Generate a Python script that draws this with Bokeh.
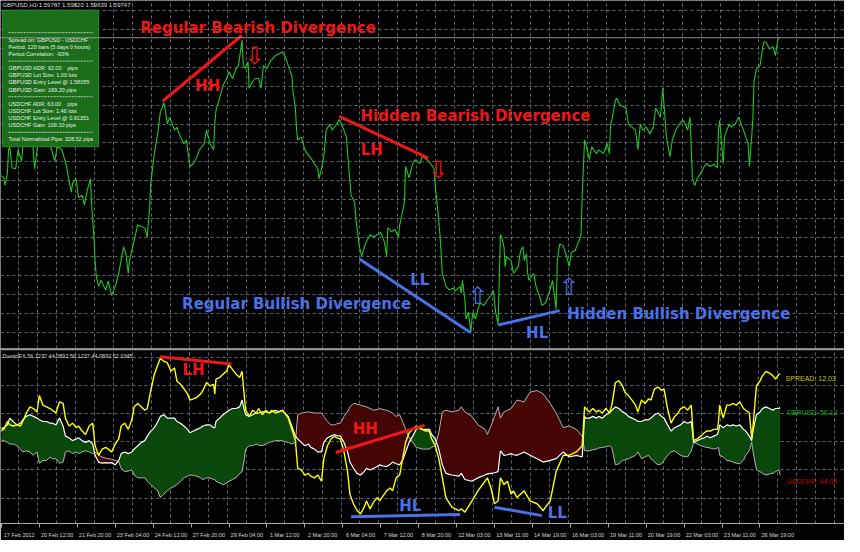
import numpy as np
from bokeh.plotting import figure
from bokeh.layouts import column
from bokeh.models import Range1d, FixedTicker, Grid, Span
from bokeh.core.properties import value
from bokeh.embed import file_html
from bokeh.resources import INLINE

# ---------------- data: GBPUSD H1 close (bar index, price) ----------------
price_bar = [0, 2, 3, 5, 6, 7, 9, 12, 14, 17, 18, 21, 24, 26, 28, 30, 33, 37, 41, 45, 47, 51, 55, 56, 59, 60, 63, 65, 68, 70,
             72, 75, 76, 78, 79, 80, 82, 84, 88, 90, 93, 96, 99, 103, 105, 107, 108, 113, 115, 118, 121, 123, 125, 126, 129,
             132, 134, 137, 138, 140, 142, 146, 148, 151, 154, 156, 159, 162, 165, 167, 171, 173, 176, 179, 180, 181, 184,
             187, 190, 192, 195, 198, 200, 203, 204, 206, 208, 209, 212, 214, 217, 219, 221, 224, 227, 231, 237, 239, 242,
             245, 246, 248, 249, 250, 253, 256, 258, 262, 264, 267, 268, 270, 272, 274, 277, 279, 282, 285, 287, 291, 293,
             295, 298, 299, 302, 304, 307, 311, 314, 317, 320, 323, 325, 326, 329, 332, 335, 336, 340, 341, 344, 347, 349,
             353, 355, 359, 362, 365, 366, 368, 370, 372, 375, 378, 381, 383, 387, 388, 389, 391, 392, 394, 396, 397, 398,
             400, 402, 404, 407, 410, 413, 415, 417, 419, 421, 422, 424, 425, 426, 430, 432, 436, 438, 440, 441, 443, 444,
             445, 449, 451, 455, 456, 459, 462, 465, 466, 468, 469, 471, 474, 477, 479, 481, 484, 487, 489, 490, 492, 493,
             496, 498, 502, 504, 508, 511, 513, 514, 515, 518, 519, 522, 527, 529, 532, 535, 537, 539, 541, 544, 547, 550,
             552, 556, 558, 560, 561, 564, 566, 569, 572, 575, 577, 579, 581, 583, 585, 587, 590, 593, 595, 598, 601, 604,
             605, 606, 609, 610, 614, 616, 619, 622, 624, 626, 628, 630, 631, 633, 634, 635, 637, 640, 643, 645, 648, 651,
             653, 655, 656]
price_close = [1.5793, 1.5790, 1.5780, 1.5796, 1.5827, 1.5831, 1.5803, 1.5802, 1.5827, 1.5812, 1.5831, 1.5850, 1.5870,
               1.5844, 1.5802, 1.5827, 1.5863, 1.5876, 1.5834, 1.5812, 1.5831, 1.5827, 1.5805, 1.5795, 1.5771, 1.5783,
               1.5789, 1.5764, 1.5767, 1.5754, 1.5771, 1.5789, 1.5758, 1.5712, 1.5681, 1.5660, 1.5647, 1.5655, 1.5642,
               1.5654, 1.5635, 1.5647, 1.5664, 1.5699, 1.5690, 1.5664, 1.5681, 1.5715, 1.5728, 1.5726, 1.5724, 1.5712,
               1.5750, 1.5783, 1.5822, 1.5850, 1.5876, 1.5889, 1.5882, 1.5861, 1.5870, 1.5853, 1.5857, 1.5844, 1.5835,
               1.5840, 1.5805, 1.5809, 1.5818, 1.5827, 1.5835, 1.5853, 1.5835, 1.5827, 1.5861, 1.5879, 1.5895, 1.5912,
               1.5921, 1.5930, 1.5921, 1.5934, 1.5938, 1.5972, 1.5938, 1.5934, 1.5943, 1.5908, 1.5917, 1.5921, 1.5921,
               1.5908, 1.5938, 1.5934, 1.5944, 1.5951, 1.5956, 1.5951, 1.5938, 1.5925, 1.5904, 1.5882, 1.5853, 1.5840,
               1.5844, 1.5827, 1.5822, 1.5814, 1.5809, 1.5802, 1.5789, 1.5802, 1.5818, 1.5853, 1.5861, 1.5853, 1.5859,
               1.5867, 1.5861, 1.5844, 1.5805, 1.5767, 1.5758, 1.5737, 1.5699, 1.5687, 1.5703, 1.5715, 1.5712, 1.5715,
               1.5718, 1.5706, 1.5687, 1.5724, 1.5719, 1.5722, 1.5712, 1.5728, 1.5758, 1.5805, 1.5790, 1.5809, 1.5814,
               1.5809, 1.5818, 1.5814, 1.5809, 1.5802, 1.5780, 1.5750, 1.5715, 1.5664, 1.5647, 1.5642, 1.5645, 1.5641,
               1.5647, 1.5638, 1.5655, 1.5629, 1.5604, 1.5613, 1.5587, 1.5604, 1.5613, 1.5604, 1.5617, 1.5625, 1.5622,
               1.5629, 1.5635, 1.5642, 1.5613, 1.5597, 1.5715, 1.5713, 1.5699, 1.5673, 1.5686, 1.5681, 1.5664, 1.5673,
               1.5694, 1.5699, 1.5681, 1.5690, 1.5664, 1.5655, 1.5664, 1.5647, 1.5629, 1.5622, 1.5625, 1.5638, 1.5655,
               1.5642, 1.5617, 1.5681, 1.5703, 1.5700, 1.5686, 1.5673, 1.5692, 1.5694, 1.5706, 1.5715, 1.5767, 1.5840,
               1.5835, 1.5814, 1.5831, 1.5822, 1.5827, 1.5822, 1.5835, 1.5822, 1.5861, 1.5866, 1.5892, 1.5895, 1.5886,
               1.5882, 1.5861, 1.5857, 1.5853, 1.5827, 1.5861, 1.5853, 1.5857, 1.5848, 1.5857, 1.5882, 1.5870, 1.5908,
               1.5866, 1.5844, 1.5818, 1.5840, 1.5853, 1.5861, 1.5866, 1.5861, 1.5853, 1.5870, 1.5789, 1.5780, 1.5789,
               1.5796, 1.5805, 1.5809, 1.5805, 1.5808, 1.5803, 1.5853, 1.5866, 1.5809, 1.5844, 1.5861, 1.5857, 1.5861,
               1.5870, 1.5861, 1.5853, 1.5844, 1.5835, 1.5805, 1.5844, 1.5870, 1.5917, 1.5934, 1.5938, 1.5969, 1.5969,
               1.5960, 1.5963, 1.5951, 1.5972, 1.5975]

# ---------------- data: DuettoFX indicator ----------------
ind_bar = [0, 2, 5, 7, 10, 13, 16, 18, 21, 24, 27, 30, 32, 35, 38, 41, 43, 46, 49, 52, 54, 57, 60, 63, 65, 68, 71, 74, 77,
           79, 82, 85, 88, 90, 93, 96, 99, 101, 104, 107, 110, 112, 115, 118, 121, 123, 126, 129, 132, 134, 137, 140, 143,
           146, 148, 151, 154, 157, 159, 162, 165, 168, 170, 173, 176, 179, 180, 181, 184, 187, 190, 192, 195, 198, 201,
           203, 205, 206, 209, 212, 215, 217, 220, 223, 226, 228, 231, 234, 237, 239, 242, 245, 248,
           250, 253, 256, 259, 261, 264, 267, 270, 272, 275, 278, 281, 283, 286, 289, 292, 294, 297, 300, 303,
           306, 308, 311, 314, 317, 319, 322, 325, 328, 330, 333, 336, 339, 341, 344, 347, 350, 352, 355, 358,
           361, 363, 366, 369, 372, 375, 380, 386, 388, 391, 397, 402, 408, 410, 413, 416, 419, 421, 424, 427,
           430, 432, 435, 441, 446, 452, 457, 463, 468, 474, 479, 485, 490,
           492, 493, 496, 499, 502, 504, 507, 510, 513, 515, 518, 521, 524, 526, 529, 532, 535, 537, 540, 543,
           546, 548, 551, 554, 557, 559, 562, 565, 568, 571, 573, 576, 579, 582, 584, 587, 590, 593, 595, 598,
           601, 604, 605, 606, 609, 612, 615, 617, 620, 623, 626, 628, 631, 633, 634, 637, 640, 642, 645, 648,
           651, 653, 656, 657]
spread_line = [52.5, 52.2, 53.6, 53.0, 52.8, 53.0, 52.8, 53.6, 55.1, 56.2, 55.9, 55.3, 58.2, 56.5, 56.2, 55.9, 55.6, 55.1,
               57.1, 56.8, 54.2, 52.8, 53.3, 52.5, 52.8, 51.9, 51.3, 52.8, 53.3, 49.3, 47.6, 48.7, 49.0, 48.7, 48.2, 49.6,
               50.5, 52.8, 53.3, 52.2, 53.9, 56.2, 56.8, 56.2, 55.6, 55.9, 59.1, 62.0, 63.7, 64.8, 64.3, 64.0, 62.5, 63.1,
               60.8, 60.2, 59.4, 58.5, 57.4, 57.6, 57.9, 58.5, 59.1, 60.5, 59.9, 60.2, 58.5, 61.1, 61.4, 62.0, 62.5, 63.7,
               62.8, 62.0, 61.4, 62.5, 57.9, 55.6, 54.5, 55.6, 55.1, 55.9, 54.8, 55.6, 55.1, 55.6, 55.1, 55.3, 55.6, 55.1,
               54.2, 52.2, 50.2,
               45.3, 45.0, 44.1, 44.4, 43.9, 43.6, 44.1, 43.0, 47.0, 49.3, 50.5, 51.0, 50.7, 50.5, 48.2, 44.7, 40.7, 39.0,
               37.8, 37.2, 38.4, 39.5, 38.1, 39.3, 40.1, 39.5, 40.4, 41.3, 41.8, 41.3, 43.6, 44.1, 47.6, 49.9, 51.6, 52.2,
               52.8, 52.5, 52.2, 51.9, 51.9, 50.5, 49.3, 47.0, 43.6, 40.1, 38.4, 37.8, 38.1, 37.5, 39.5, 41.3, 43.0, 43.6,
               41.8, 39.0, 39.5, 43.6, 42.4, 43.0, 40.7, 41.3, 40.1, 41.3, 39.5, 39.0, 37.8, 39.5, 44.7, 47.6, 47.6, 48.2,
               49.3,
               56.2, 55.9, 55.3, 55.9, 55.3, 55.6, 55.1, 55.9, 55.1, 56.5, 60.5, 60.8, 59.9, 58.8, 58.2, 57.4, 56.5, 55.3,
               57.4, 56.8, 57.6, 57.4, 59.4, 59.7, 59.1, 59.4, 55.9, 53.3, 54.5, 55.1, 55.9, 56.2, 55.6, 56.5, 50.2, 50.5,
               51.0, 51.6, 51.9, 51.9, 52.2, 52.2, 53.6, 56.5, 54.2, 56.5, 56.5, 56.8, 56.5, 57.1, 55.9, 55.6, 55.1, 50.7,
               52.5, 59.9, 60.8, 61.7, 62.5, 62.2, 61.7, 61.1, 62.0, 62.0]
gbp_line = [51.9, 52.5, 53.0, 54.2, 53.6, 53.0, 53.3, 53.9, 54.5, 54.8, 54.5, 54.2, 53.9, 53.6, 53.6, 53.3, 53.3, 53.0,
            54.2, 52.8, 51.0, 50.7, 50.2, 50.5, 50.7, 50.2, 49.9, 50.2, 49.6, 47.6, 46.4, 46.2, 46.3, 46.2, 46.3, 45.9,
            46.7, 47.9, 48.2, 47.9, 48.2, 48.7, 49.3, 49.9, 50.2, 51.0, 51.9, 52.5, 53.6, 54.5, 54.8, 54.2, 54.2, 54.2,
            53.6, 53.3, 52.8, 52.2, 51.6, 51.9, 52.2, 52.5, 52.8, 53.0, 53.0, 52.5, 52.5, 53.6, 54.2, 54.8, 55.3, 55.6,
            55.9, 55.9, 56.2, 57.4, 55.6, 54.8, 54.5, 54.8, 55.1, 55.1, 55.3, 55.3, 55.1, 55.3, 55.6, 55.3, 55.6, 55.1,
            54.5, 52.8, 51.0,
            50.5, 49.9, 49.3, 49.6, 49.0, 48.7, 48.2, 48.2, 49.9, 50.7, 51.0, 51.3, 51.1, 51.0, 49.9, 48.2, 46.4, 45.3,
            44.4, 44.1, 44.7, 45.3, 45.0, 45.3, 45.6, 45.9, 45.7, 45.6, 46.0, 46.4, 46.1, 45.9, 47.0, 48.2, 49.9, 51.0,
            52.2, 52.5, 52.2, 52.2, 52.2, 51.3, 50.5, 48.7, 45.9, 44.4, 44.1, 43.9, 44.4, 43.3, 43.0, 43.6, 44.1, 44.3,
            44.4, 44.5, 44.7, 48.4, 47.6, 47.7, 47.9, 47.7, 47.6, 48.2, 47.6, 47.0, 46.4, 46.7, 47.0, 48.2, 47.3, 47.6,
            47.3,
            54.5, 54.2, 54.2, 54.5, 54.2, 54.5, 54.2, 54.8, 55.1, 55.6, 56.2, 55.9, 55.3, 55.1, 54.5, 54.2, 53.9, 53.6,
            53.6, 53.9, 53.9, 54.2, 54.8, 55.1, 54.5, 54.2, 53.0, 51.9, 52.5, 52.8, 53.0, 53.6, 53.3, 53.6, 49.9, 50.2,
            50.5, 50.7, 51.0, 50.7, 51.0, 51.3, 51.9, 53.0, 52.5, 53.0, 52.8, 53.0, 52.8, 53.0, 52.2, 51.9, 51.0, 50.2,
            51.9, 54.8, 55.3, 55.9, 56.2, 55.9, 55.6, 55.9, 55.9, 56.1]
chf_line = [50.3, 50.2, 49.9, 49.6, 49.6, 49.3, 48.7, 48.2, 48.4, 48.2, 47.6, 48.2, 46.2, 46.7, 46.7, 47.3, 47.0, 47.0,
            46.2, 46.4, 48.2, 48.4, 47.9, 48.2, 47.9, 48.2, 48.4, 48.2, 47.9, 48.2, 47.6, 47.3, 47.1, 47.0, 46.9, 46.7,
            46.4, 45.3, 44.7, 44.8, 45.0, 44.1, 43.6, 43.6, 43.6, 43.0, 42.4, 41.8, 41.3, 40.1, 40.7, 41.3, 41.8, 42.1,
            42.4, 43.0, 43.6, 43.9, 44.1, 44.0, 43.9, 43.6, 43.3, 43.6, 43.6, 43.3, 43.3, 43.0, 42.7, 42.4, 42.7, 43.0,
            43.3, 43.6, 44.4, 44.7, 47.0, 48.7, 49.3, 49.3, 49.6, 49.4, 49.3, 49.6, 49.9, 50.0, 50.2, 50.2, 50.2, 50.0,
            49.9, 49.6, 49.9,
            54.8, 55.1, 55.2, 55.3, 55.2, 55.1, 55.1, 55.1, 54.5, 53.6, 53.0, 53.0, 53.2, 53.3, 54.5, 55.3, 56.2, 56.8,
            56.7, 56.5, 56.3, 56.2, 55.9, 55.6, 55.7, 55.9, 55.7, 55.6, 55.3, 55.1, 54.5, 54.8, 53.3, 52.2, 50.7, 49.9,
            49.0, 48.9, 48.7, 48.7, 48.7, 49.0, 49.3, 51.6, 55.3, 55.6, 55.3, 55.6, 56.2, 55.3, 54.5, 53.0, 52.2, 51.3,
            52.8, 54.5, 56.2, 54.2, 55.3, 55.6, 55.9, 56.5, 57.4, 57.1, 58.8, 59.1, 58.5, 56.8, 55.1, 52.5, 52.8, 52.2,
            51.0,
            48.4, 48.4, 48.4, 48.6, 48.7, 48.9, 49.0, 49.1, 49.3, 49.0, 45.9, 46.1, 46.7, 46.8, 47.0, 47.3, 47.6, 48.2,
            47.0, 47.3, 47.6, 47.0, 46.4, 45.9, 46.1, 46.7, 47.6, 48.2, 48.4, 47.9, 47.6, 47.4, 47.3, 48.4, 49.9, 49.6,
            49.3, 49.1, 49.0, 48.9, 48.7, 48.9, 49.0, 47.6, 47.3, 46.7, 46.6, 46.4, 46.2, 46.1, 46.7, 47.6, 48.4, 49.9,
            48.4, 45.0, 44.7, 44.4, 44.1, 44.3, 44.4, 44.7, 45.0, 44.1]

# ---------------- time axis labels (every 32 H1 bars) ----------------
time_ticks = [0, 32, 64, 96, 128, 160, 192, 224, 256, 288, 320, 352, 384, 416, 448, 480, 512, 544, 576, 608, 640]
time_labels = ["17 Feb 2012", "20 Feb 12:00", "21 Feb 20:00", "23 Feb 04:00", "24 Feb 12:00", "27 Feb 20:00",
               "29 Feb 04:00", "1 Mar 12:00", "2 Mar 20:00", "6 Mar 04:00", "7 Mar 12:00", "8 Mar 20:00",
               "12 Mar 03:00", "13 Mar 11:00", "14 Mar 19:00", "16 Mar 03:00", "19 Mar 11:00", "20 Mar 19:00",
               "22 Mar 03:00", "23 Mar 11:00", "26 Mar 19:00"]

# ---------------- divergence markup (bar, price / indicator value) ----------------
price_div_x0 = [136, 285, 302, 419]
price_div_y0 = [1.5891, 1.5871, 1.5683, 1.5596]
price_div_x1 = [203, 360, 396, 471]
price_div_y1 = [1.5978, 1.5816, 1.5586, 1.5615]
ind_div_x0 = [134, 282, 295, 416]
ind_div_y0 = [65.1, 48.1, 36.7, 38.4]
ind_div_x1 = [194, 357, 387, 456]
ind_div_y1 = [63.8, 52.9, 37.1, 36.9]

RED = "#f01616"
BLUE = "#4a72e8"
div_colors = [RED, RED, BLUE, BLUE]

price_text = ["Regular Bearish Divergence", "HH", "Hidden Bearish Divergence", "LH",
              "LL", "Regular Bullish Divergence", "HL", "Hidden Bullish Divergence"]
price_text_x = [216.5, 174, 400, 312.5, 353, 249, 452, 571.5]
price_text_y = [1.5988, 1.5911, 1.5872, 1.5827, 1.5655, 1.5624, 1.5586, 1.5610]
price_text_c = [RED] * 4 + [BLUE] * 4

arrow_text = ["\u21e9", "\u21e9", "\u21e7", "\u21e7"]
arrow_x = [213.6, 368.5, 402, 479]
arrow_y = [1.5951, 1.5801, 1.5634, 1.5646]

ind_text = ["LH", "HH", "HL", "LL"]
ind_text_x = [162, 307, 345, 469]
ind_text_y = [62.8, 52.2, 38.6, 37.4]

info_lines = ["Spread on: GBPUSD - USDCHF", "Period: 120 bars (5 days 0 hours)", "Period Correlation: -93%", None,
              "GBPUSD ADR: 92.00\u00a0\u00a0\u00a0 pips", "GBPUSD Lot Size: 1.00 lots",
              "GBPUSD Entry Level @ 1.58055", "GBPUSD Gain: 169.20 pips", None,
              "USDCHF ADR: 63.00\u00a0\u00a0\u00a0 pips", "USDCHF Lot Size: 1.46 lots",
              "USDCHF Entry Level @ 0.91351", "USDCHF Gain: 109.10 pips", None,
              "Total Normalized Pips: 328.52 pips"]

# ---------------- layout constants ----------------
W = 844
X0, X1 = -0.8, 711.3
P_BOT, P_TOP = 1.55651, 1.60238
V_BOT, V_TOP = 35.5, 66.55
GRID = "#5f6a76"
FONT = value("Liberation Sans")
BIG = value("DejaVu Sans")
LABEL_SHIFT = 15.0   # axis labels start just right of their tick (MT4 style)

common = dict(output_backend="svg", toolbar_location=None, background_fill_color="black",
              border_fill_color="black", outline_line_color=None, min_border=0)

xr = Range1d(X0, X1)
top = figure(frame_width=W, frame_height=348, x_range=xr, y_range=Range1d(P_BOT, P_TOP),
             x_axis_location=None, y_axis_location=None, **common)
bot = figure(frame_width=W, frame_height=175, x_range=xr, y_range=Range1d(V_BOT, V_TOP),
             y_axis_location=None, **common)

vgrid = [16 * k - 1.5 for k in range(46)]
for p in (top, bot):
    p.grid.visible = False
    p.add_layout(Grid(dimension=0, ticker=FixedTicker(ticks=vgrid), grid_line_color=GRID,
                      grid_line_dash="3 3"))
top.add_layout(Grid(dimension=1, ticker=FixedTicker(ticks=[1.6011 - 0.0025 * k for k in range(19)]),
                    grid_line_color=GRID, grid_line_dash="3 3"))
bot.add_layout(Grid(dimension=1, ticker=FixedTicker(ticks=[40, 45, 50, 55, 60, 65]),
                    grid_line_color=GRID, grid_line_dash="3 3"))

# ---- top panel ----
top.add_layout(Span(location=1.59747, dimension="width", line_color="#8f8f8f", line_width=1))
top.line(price_bar, price_close, line_color="#1ec81e", line_width=1.1)
top.segment(price_div_x0, price_div_y0, price_div_x1, price_div_y1, line_color=div_colors, line_width=3)
top.text(price_text_x, price_text_y, text=price_text, text_color=price_text_c, text_font=BIG,
         text_font_style="bold", text_font_size="15px", text_align="center", text_baseline="middle")
top.text(arrow_x, arrow_y, text=arrow_text, text_color=div_colors, text_font=BIG,
         text_font_size="24px", text_align="center", text_baseline="middle")

# info box
top.quad(left=[0.8], right=[82], top=[1.6011], bottom=[1.5831], fill_color="#1a6e1a", line_color="#2f8a2f")
line_step = 0.000938
sep_y = 1.59814
ys, txts, seps = [], [], [sep_y]
for i, t in enumerate(info_lines):
    y = sep_y - (i + 1) * line_step
    if t is None:
        seps.append(y)
    else:
        ys.append(y)
        txts.append(t)
top.segment([6.0] * len(seps), seps, [77.5] * len(seps), seps, line_color="#b8d0b8", line_width=1,
            line_dash="2 1")
top.text([6.0] * len(txts), ys, text=txts, text_color="#ececec", text_font=FONT, text_font_size="5.5px",
         text_baseline="middle")
top.text([0.8], [1.60174], text=["GBPUSD,H1  1.59767 1.59820 1.59639 1.59747"], text_color="#d8d8d8",
         text_font=FONT, text_font_size="6px", text_baseline="middle")

# ---- indicator panel ----
gbp = np.array(gbp_line)
chf = np.array(chf_line)
bot.varea(x=ind_bar, y1=chf, y2=np.maximum(gbp, chf), fill_color="#0a470a")
bot.varea(x=ind_bar, y1=gbp, y2=np.maximum(gbp, chf), fill_color="#440404")
bot.line(ind_bar, chf_line, line_color="#b4b4b4", line_width=1)
bot.line(ind_bar, gbp_line, line_color="#ffffff", line_width=1.2)
bot.line(ind_bar, spread_line, line_color="#ffff00", line_width=1.4)
bot.segment(ind_div_x0, ind_div_y0, ind_div_x1, ind_div_y1, line_color=div_colors, line_width=3)
bot.text(ind_text_x, ind_text_y, text=ind_text, text_color=div_colors, text_font=BIG,
         text_font_style="bold", text_font_size="15px", text_align="center", text_baseline="middle")
bot.text([661.6, 662.5, 662.5], [61.2, 55.2, 42.9], text=["SPREAD: 12.03", "GBPUSD: 56.12", "USDCHF: 44.09"],
         text_color=["#c8c800", "#12b012", "#c00000"], text_font=FONT, text_font_size="7px",
         text_baseline="middle")
bot.text([0.8], [65.2], text=["DuettoFX 56.1237 44.0892 56.1237 44.0892 62.0345"], text_color="#d8d8d8",
         text_font=FONT, text_font_size="5.5px", text_baseline="middle")
bot.add_layout(Span(location=V_TOP - 0.12, dimension="width", line_color="#9a9a9a", line_width=2))

label_pos = [t + LABEL_SHIFT for t in time_ticks]
ax = bot.xaxis[0]
ax.ticker = FixedTicker(ticks=label_pos, minor_ticks=time_ticks)
ax.major_label_overrides = {p: l for p, l in zip(label_pos, time_labels)}
ax.major_label_text_font = "Liberation Sans"
ax.major_label_text_font_size = "5.5px"
ax.major_label_text_color = "#d8d8d8"
ax.major_label_standoff = 2
ax.axis_line_color = "#a8a8a8"
ax.major_tick_line_color = None
ax.minor_tick_line_color = "#a8a8a8"
ax.minor_tick_out = 4
ax.minor_tick_in = 0

layout = column(top, bot, spacing=0)
open("out.html", "w").write(file_html(layout, INLINE))
